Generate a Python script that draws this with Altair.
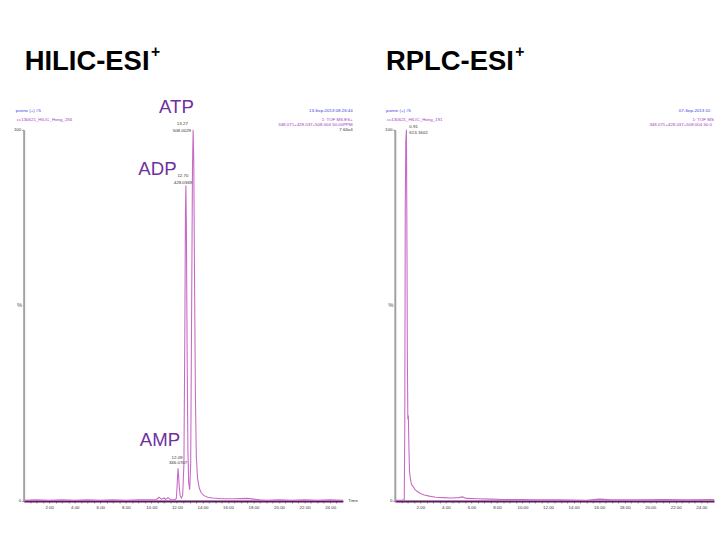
import altair as alt
import pandas as pd

# ---------------- data ----------------
hilic_time = [0.0, 1.0, 2.0, 3.0, 4.0, 5.0, 6.0, 7.0, 8.0, 9.0, 10.0, 10.4, 10.6, 10.8, 11.0,
              11.1, 11.3, 11.5, 11.8, 11.95, 12.0, 12.05, 12.09, 12.13, 12.18, 12.25, 12.35,
              12.45, 12.55, 12.62, 12.67, 12.70, 12.74, 12.80, 12.86, 12.92, 13.0, 13.08,
              13.15, 13.22, 13.27, 13.32, 13.38, 13.45, 13.52, 13.62, 13.75, 13.9, 14.1,
              14.4, 14.8, 15.5, 16.5, 17.5, 18.0, 18.5, 19.0, 20.0, 21.0, 22.0, 23.0, 24.0, 25.0]
hilic_intensity = [0.2, 0.3, 0.2, 0.3, 0.2, 0.3, 0.2, 0.3, 0.2, 0.3, 0.3, 0.4, 1.0, 0.5, 0.8,
                   0.4, 0.9, 0.4, 0.3, 0.6, 3.0, 6.5, 8.8, 7.0, 4.0, 1.5, 0.8,
                   1.5, 10.0, 45.0, 78.0, 85.0, 75.0, 40.0, 14.0, 5.0, 3.0, 10.0,
                   50.0, 90.0, 100.0, 92.0, 60.0, 28.0, 12.0, 6.0, 3.5, 2.2, 1.5,
                   1.0, 0.8, 0.6, 0.6, 0.7, 0.5, 0.3, 0.2, 0.3, 0.2, 0.3, 0.2, 0.3, 0.2]

rplc_time = [0.0, 0.5, 0.74, 0.78, 0.82, 0.86, 0.91, 0.95, 0.98, 1.02, 1.06, 1.10, 1.15, 1.22,
             1.3, 1.45, 1.6, 1.8, 2.0, 2.3, 2.7, 3.2, 3.8, 4.4, 5.0, 5.3, 5.6, 6.5, 7.5, 8.5,
             10.0, 11.0, 13.0, 15.0, 16.0, 17.0, 19.0, 21.0, 23.0, 25.0]
rplc_intensity = [0.2, 0.2, 0.3, 20.0, 80.0, 97.0, 100.0, 70.0, 40.0, 22.0, 23.0, 15.0, 8.0, 6.0,
                  4.5, 3.8, 3.0, 2.5, 2.0, 1.6, 1.3, 1.0, 0.9, 0.8, 0.9, 1.1, 0.7, 0.6, 0.5, 0.4,
                  0.4, 0.3, 0.3, 0.2, 0.5, 0.3, 0.3, 0.4, 0.3, 0.4]

hilic_peak_names = ["AMP", "ADP", "ATP"]
hilic_peak_rt = [12.09, 12.70, 13.27]
hilic_peak_mz = ["346.0707", "428.0369", "508.0029"]
hilic_peak_height = [8.8, 85.0, 100.0]

rplc_peak_rt = [0.91]
rplc_peak_mz = ["613.1602"]
rplc_peak_height = [100.0]

panel_titles = ["HILIC-ESI", "RPLC-ESI"]
sample_names = ["purine (+) #5", "purine (+) #5"]
file_names = ["cc130621_HILIC_Hong_256", "cc130621_HILIC_Hong_191"]
run_dates = ["13-Sep-2013  08:26:44", "07-Sep-2013  01:"]
scan_funcs = ["1: TOF MS ES+", "1: TOF MS"]
mass_windows = ["348.071+428.037+508.004 50.00PPM", "348.071+428.037+508.004 50.0"]
max_counts = ["7.64e4"]

tick_values = [i / 2 for i in range(1, 50)]

# ---------------- styling ----------------
W, H = 326, 379
FONT = "Liberation Sans, Arial, sans-serif"
TRACE = "#c76ac7"
BLUE = "#3c3ce0"
PURPLE = "#9a3cbf"
BIG_PURPLE = "#7030a0"
DARK = "#333333"

xscale = alt.Scale(domain=[0, 25], nice=False, zero=False)
yscale = alt.Scale(domain=[0, 100], nice=False)


def x_axis(show_time):
    kw = dict(values=tick_values,
              labelExpr="datum.value % 2 == 0 ? format(datum.value, '.2f') : ''",
              labelOverlap=False, labelFlush=False, labelFont=FONT, labelFontSize=4.5,
              labelColor=DARK, labelPadding=2, tickSize=2, tickColor="#666666", tickWidth=0.8,
              domainColor="#5b1a5b", domainWidth=2, grid=False)
    if show_time:
        kw.update(title="Time", titleX=W + 5, titleY=0, titleAlign="left",
                  titleBaseline="middle", titleAngle=0, titleFont=FONT, titleFontSize=4.5,
                  titleFontWeight="normal", titleColor=DARK)
    else:
        kw.update(title=None)
    return alt.Axis(**kw)


def y_axis():
    return alt.Axis(values=[0, 100], format="d", labelFont=FONT, labelFontSize=4.5,
                    labelColor=DARK, labelPadding=1, tickSize=2, tickColor="#888888",
                    domainColor="#a0a0a0", domainWidth=2, grid=False, title="%",
                    titleAngle=0, titleX=-2, titleY=178, titleAlign="right",
                    titleBaseline="middle", titleFont=FONT, titleFontSize=6,
                    titleFontWeight="normal", titleColor="#555555")


def note(text, x, y, size, color, align="left", baseline="middle", weight="normal"):
    return alt.Chart(alt.Data(values=[{}])).mark_text(
        text=text, align=align, baseline=baseline, fontSize=size, color=color,
        font=FONT, fontWeight=weight
    ).encode(x=alt.value(x), y=alt.value(y))


def peak_text(rt, h, text, dx, dy, size, color, show_time, align="center", baseline="middle"):
    df = pd.DataFrame({"time": [rt], "intensity": [h]})
    return alt.Chart(df).mark_text(
        text=text, dx=dx, dy=dy, fontSize=size, color=color, font=FONT,
        align=align, baseline=baseline
    ).encode(x=alt.X("time:Q", scale=xscale, axis=x_axis(show_time)),
             y=alt.Y("intensity:Q", scale=yscale, axis=y_axis()))


def trace(times, vals, show_time):
    df = pd.DataFrame({"time": times, "intensity": vals})
    return alt.Chart(df).mark_line(color=TRACE, strokeWidth=1.1).encode(
        x=alt.X("time:Q", scale=xscale, axis=x_axis(show_time)),
        y=alt.Y("intensity:Q", scale=yscale, axis=y_axis()))


# ---------------- left panel (HILIC) ----------------
left_layers = [
    trace(hilic_time, hilic_intensity, True),
    note(panel_titles[0], 1, -61, 28, "black", baseline="alphabetic", weight="bold"),
    note("+", 130, -74, 16, "black", baseline="alphabetic", weight="bold"),
    note(sample_names[0], -8, -19, 4.5, BLUE),
    note(file_names[0], -7, -10, 4.5, PURPLE),
    note(run_dates[0], 336, -19, 4.5, BLUE, align="right"),
    note(scan_funcs[0], 336, -10, 4.5, PURPLE, align="right"),
    note(mass_windows[0], 336, -5, 4.5, PURPLE, align="right"),
    note(max_counts[0], 336, 0, 4.5, DARK, align="right"),
]
big_dx = [-18.5, -29, -17]
big_dy = [-23, -11, -17]
small_dx = [[-1, 0], [-3, -3], [-11, -11.5]]
small_dy = [[-11, -5], [-10, -3], [-6, 1]]
for i in range(3):
    rt, h = hilic_peak_rt[i], hilic_peak_height[i]
    left_layers.append(peak_text(rt, h, hilic_peak_names[i], big_dx[i], big_dy[i], 19,
                                 BIG_PURPLE, True, baseline="alphabetic"))
    left_layers.append(peak_text(rt, h, f"{rt:.2f}", small_dx[i][0], small_dy[i][0], 4.5,
                                 DARK, True))
    left_layers.append(peak_text(rt, h, hilic_peak_mz[i], small_dx[i][1], small_dy[i][1], 4.5,
                                 DARK, True))

left = alt.layer(*left_layers).properties(width=W, height=H)

# ---------------- right panel (RPLC) ----------------
right_layers = [
    trace(rplc_time, rplc_intensity, False),
    note(panel_titles[1], -9, -61, 28, "black", baseline="alphabetic", weight="bold"),
    note("+", 123, -74, 16, "black", baseline="alphabetic", weight="bold"),
    note(sample_names[1], -9, -19, 4.5, BLUE),
    note(file_names[1], -8, -10, 4.5, PURPLE),
    note(run_dates[1], 290, -19, 4.5, BLUE),
    note(scan_funcs[1], 304, -10, 4.5, PURPLE),
    note(mass_windows[1], 260, -5, 4.5, PURPLE),
    peak_text(rplc_peak_rt[0], rplc_peak_height[0], f"{rplc_peak_rt[0]:.2f}", 3, -3, 4.5,
              DARK, False, align="left"),
    peak_text(rplc_peak_rt[0], rplc_peak_height[0], rplc_peak_mz[0], 3, 3, 4.5, DARK,
              False, align="left"),
]
right = alt.layer(*right_layers).properties(width=W, height=H)

chart = alt.hconcat(left, right, spacing=53, bounds="flush").properties(
    padding={"left": 5, "top": 32, "right": 0, "bottom": 4},
    background="white",
).configure_view(strokeWidth=0)

chart.save("out.html", embed_options={"renderer": "svg", "actions": False})
